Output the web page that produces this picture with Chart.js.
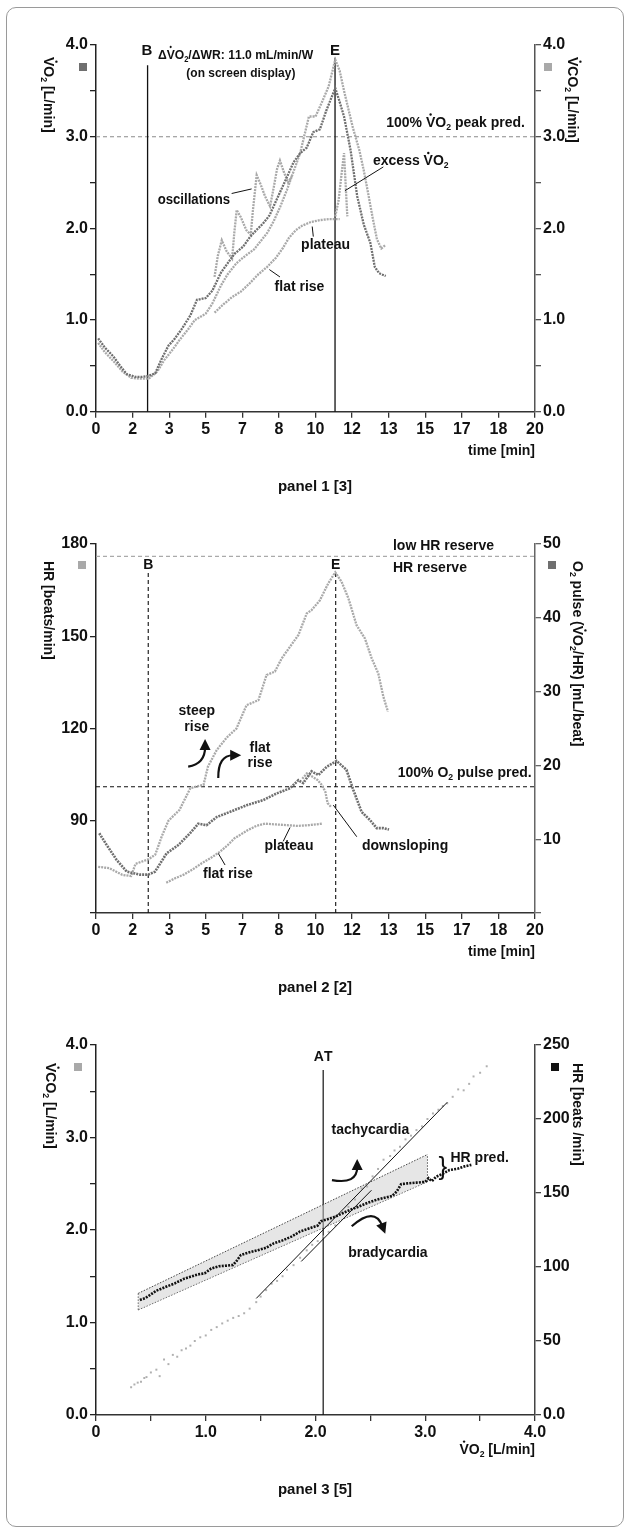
<!DOCTYPE html>
<html>
<head>
<meta charset="utf-8">
<script src="https://cdn.jsdelivr.net/npm/chart.js@4.4.1/dist/chart.umd.min.js"></script>
<style>
  html, body { margin: 0; padding: 0; background: #fff; }
  #page { position: relative; width: 630px; height: 1533px; }
  #frame { position: absolute; left: 6px; top: 7px; width: 616px; height: 1518px; border: 1px solid #9a9a9a; border-radius: 10px; }
  canvas { position: absolute; left: 0; }
</style>
</head>
<body>
<div id="page">
  <div id="frame"></div>
  <canvas id="c1" width="630" height="500" style="top:0"></canvas>
  <canvas id="c2" width="630" height="505" style="top:500px"></canvas>
  <canvas id="c3" width="630" height="528" style="top:1005px"></canvas>
</div>
<script>
// ---- panel 1: VO2 / VCO2 over time ----
const timeTickLabels = ['0', '2', '3', '5', '7', '8', '10', '12', '13', '15', '17', '18', '20'];
const p1TickLabels = ['0.0', '', '1.0', '', '2.0', '', '3.0', '', '4.0'];

const p1VO2Time = [0.1, 0.4, 0.8, 1.1, 1.4, 1.8, 2.1, 2.4, 2.7, 3.0, 3.3, 3.6, 3.9, 4.3, 4.6, 5.0, 5.3, 5.7, 6.0, 6.3, 6.7, 7.0, 7.3, 7.6, 7.9, 8.3, 8.7, 9.0, 9.3, 9.6, 9.9, 10.2, 10.5, 10.9, 11.1, 11.3, 11.6, 11.9, 12.2, 12.5, 12.7, 12.9, 13.2];
const p1VO2 = [0.80, 0.70, 0.60, 0.50, 0.41, 0.38, 0.38, 0.39, 0.42, 0.58, 0.72, 0.80, 0.90, 1.05, 1.22, 1.24, 1.32, 1.52, 1.62, 1.72, 1.80, 1.90, 1.98, 2.05, 2.14, 2.35, 2.56, 2.72, 2.82, 2.88, 3.05, 3.08, 3.29, 3.53, 3.38, 3.22, 2.85, 2.35, 2.04, 1.84, 1.58, 1.51, 1.48];

const p1VCO2Time = [0.1, 0.4, 0.8, 1.2, 1.6, 2.0, 2.4, 2.8, 3.1, 3.5, 3.8, 4.2, 4.5, 5.0, 5.3, 5.7, 6.0, 6.4, 6.8, 7.2, 7.5, 7.8, 8.1, 8.4, 8.7, 9.0, 9.3, 9.7, 10.0, 10.3, 10.6, 10.9, 11.1, 11.3, 11.5, 11.7, 12.0, 12.2, 12.4, 12.6, 12.8, 13.0, 13.2];
const p1VCO2 = [0.75, 0.65, 0.55, 0.44, 0.37, 0.36, 0.36, 0.44, 0.56, 0.68, 0.78, 0.90, 1.00, 1.07, 1.18, 1.38, 1.50, 1.62, 1.70, 1.77, 1.86, 1.95, 2.08, 2.24, 2.42, 2.62, 2.82, 3.22, 3.22, 3.38, 3.55, 3.84, 3.72, 3.50, 3.30, 3.10, 2.85, 2.63, 2.38, 2.12, 1.88, 1.78, 1.82];

const p1OscTime = [5.4, 5.55, 5.73, 5.95, 6.2, 6.3, 6.41, 6.6, 6.85, 7.05, 7.15, 7.32, 7.5, 7.7, 7.93, 8.1, 8.25, 8.38, 8.55, 8.75, 8.95];
const p1Osc = [1.47, 1.70, 1.87, 1.75, 1.67, 1.95, 2.20, 2.12, 1.98, 1.93, 2.20, 2.58, 2.48, 2.35, 2.24, 2.45, 2.65, 2.74, 2.62, 2.50, 2.58];

const p1FlatTime = [5.4, 5.8, 6.2, 6.6, 7.0, 7.4, 7.8, 8.2, 8.5, 8.8, 9.1, 9.4, 9.8, 10.2, 10.6, 11.1];
const p1Flat = [1.08, 1.17, 1.25, 1.31, 1.40, 1.50, 1.58, 1.68, 1.78, 1.90, 1.98, 2.03, 2.07, 2.09, 2.10, 2.10];

const p1ExcessTime = [10.9, 11.05, 11.2, 11.3, 11.38, 11.45];
const p1Excess = [2.13, 2.30, 2.62, 2.82, 2.45, 2.13];

// ---- panel 2: HR and O2 pulse over time ----
const p2HRTicks = [60, 90, 120, 150, 180];
const p2HRTickLabels = ['', '90', '120', '150', '180'];
const p2PulseTicks = [0, 10, 20, 30, 40, 50];
const p2PulseTickLabels = ['', '10', '20', '30', '40', '50'];

const p2HRTime = [0.1, 0.6, 1.2, 1.6, 1.8, 2.4, 2.7, 3.0, 3.3, 3.8, 4.3, 4.9, 5.1, 5.5, 5.95, 6.4, 6.86, 7.4, 7.77, 8.15, 8.46, 8.84, 9.22, 9.6, 9.82, 10.2, 10.58, 10.9, 11.19, 11.5, 11.87, 12.25, 12.56, 12.86, 13.09, 13.3];
const p2HR = [75, 74.6, 72.4, 72, 76, 77.5, 79, 85, 90, 93.5, 100.6, 101.7, 107.6, 113, 117, 120, 127.6, 129.2, 137.4, 138.5, 142.8, 146.6, 150.4, 157.4, 158.5, 161.7, 167.2, 170.8, 167.7, 162.3, 153.6, 149.3, 142.8, 137.9, 130.4, 125.5];

const p2PulseTime = [0.15, 0.49, 0.94, 1.4, 2.0, 2.38, 2.69, 3.22, 3.75, 4.28, 4.66, 5.04, 5.5, 6.1, 6.86, 7.62, 8.23, 8.84, 9.22, 9.44, 9.82, 10.13, 10.51, 10.96, 11.41, 11.72, 12.1, 12.48, 12.79, 13.09, 13.35];
const p2Pulse = [10.8, 9.2, 7.2, 5.6, 5.2, 5.2, 5.6, 8.1, 9.2, 10.8, 12.1, 11.9, 13.0, 13.7, 14.6, 15.3, 16.2, 16.9, 18.0, 17.6, 19.2, 18.7, 19.8, 20.6, 19.4, 16.7, 13.7, 12.6, 11.5, 11.5, 11.3];

const p2DownTime = [9.4, 9.6, 9.9, 10.1, 10.3, 10.45, 10.55, 10.7];
const p2Down = [18.2, 18.9, 18.4, 18.0, 17.3, 16.4, 14.9, 14.4];

const p2FlatTime = [3.2, 3.6, 4.0, 4.4, 4.8, 5.2, 5.65, 6.0, 6.3, 6.9, 7.3, 7.7, 8.2, 8.7, 9.2, 9.7, 10.3];
const p2Flat = [4.1, 4.7, 5.2, 5.9, 6.7, 7.4, 8.3, 9.2, 10.1, 11.2, 11.8, 12.1, 12.0, 11.9, 11.8, 11.9, 12.1];

// ---- panel 3: VCO2 and HR against VO2 ----
const p3XTickLabels = ['0', '', '1.0', '', '2.0', '', '3.0', '', '4.0'];
const p3YTickLabels = ['0.0', '', '1.0', '', '2.0', '', '3.0', '', '4.0'];
const p3HRTicks = [0, 50, 100, 150, 200, 250];
const p3HRTickLabels = ['0.0', '50', '100', '150', '200', '250'];

const p3ScatterVO2 = [0.32, 0.35, 0.38, 0.41, 0.44, 0.46, 0.5, 0.55, 0.58, 0.62, 0.66, 0.7, 0.74, 0.78, 0.82, 0.86, 0.9, 0.95, 1.0, 1.05, 1.1, 1.15, 1.2, 1.25, 1.3, 1.35, 1.4, 1.46, 1.5, 1.55, 1.6, 1.65, 1.7, 1.74, 1.8, 1.86, 1.92, 1.97, 2.02, 2.07, 2.12, 2.18, 2.25, 2.3, 2.36, 2.42, 2.47, 2.52, 2.57, 2.62, 2.68, 2.72, 2.77, 2.82, 2.87, 2.92, 2.97, 3.02, 3.07, 3.12, 3.16, 3.2, 3.25, 3.3, 3.35, 3.4, 3.44, 3.5, 3.56];
const p3ScatterVCO2 = [0.30, 0.33, 0.35, 0.36, 0.40, 0.41, 0.46, 0.49, 0.42, 0.60, 0.55, 0.65, 0.63, 0.70, 0.72, 0.75, 0.80, 0.84, 0.86, 0.92, 0.95, 0.99, 1.02, 1.05, 1.07, 1.10, 1.15, 1.22, 1.28, 1.35, 1.42, 1.45, 1.50, 1.57, 1.62, 1.70, 1.78, 1.84, 1.88, 1.93, 1.98, 2.05, 2.18, 2.25, 2.33, 2.45, 2.47, 2.58, 2.66, 2.76, 2.80, 2.86, 2.90, 2.98, 3.02, 3.08, 3.12, 3.20, 3.26, 3.30, 3.34, 3.37, 3.44, 3.52, 3.51, 3.58, 3.66, 3.70, 3.77];

const p3HRVO2 = [0.40, 0.45, 0.55, 0.65, 0.72, 0.80, 0.86, 0.93, 0.99, 1.05, 1.12, 1.20, 1.25, 1.28, 1.32, 1.40, 1.48, 1.55, 1.62, 1.70, 1.78, 1.86, 1.94, 2.02, 2.05, 2.10, 2.18, 2.25, 2.33, 2.40, 2.48, 2.56, 2.64, 2.70, 2.74, 2.78, 2.84, 2.92, 3.00, 3.03, 3.06, 3.10, 3.16, 3.22, 3.30, 3.36, 3.42];
const p3HR = [77.7, 79, 84, 87, 89, 92, 93.4, 95, 95.7, 99, 100.5, 101, 101.4, 104, 108.1, 110, 111.5, 113, 116, 118, 120.5, 124, 126, 128, 131, 132, 134, 136.5, 139, 141, 143.5, 145.5, 147, 148, 151, 156, 156.5, 157, 157.5, 160, 158, 161, 163, 165.5, 166.5, 168, 169];

const p3LineAX = [1.46, 3.20];
const p3LineAY = [1.26, 3.38];
const p3LineBX = [1.87, 2.51];
const p3LineBY = [1.66, 2.43];

const p3BandX = [0.385, 3.02];
const p3BandUpper = [82.2, 176];
const p3BandLower = [71, 157.6];

// ---- helpers ----
const FONT = "'Liberation Sans', Arial, sans-serif";
const DARK = '#6f6f6f';
const LIGHT = '#a9a9a9';

const pts = (xs, ys) => xs.map((x, i) => ({ x: x, y: ys[i] }));

function trace(xs, ys, color, axis, extra) {
    return Object.assign({
        data: pts(xs, ys), yAxisID: axis, showLine: true,
        borderColor: color, backgroundColor: color, borderWidth: 2.3,
        borderDash: [2, 1], pointRadius: 0, tension: 0, fill: false
    }, extra || {});
}

function scaleOpts(o) {
    return {
        type: 'linear', position: o.position, min: o.min, max: o.max,
        afterBuildTicks: s => { s.ticks = o.ticks.map(v => ({ value: v })); },
        afterFit: s => {
            if (o.width != null) s.width = o.width;
            if (o.height != null) s.height = o.height;
            s.paddingTop = 0; s.paddingBottom = 0; s.paddingLeft = 0; s.paddingRight = 0;
        },
        ticks: {
            autoSkip: false, maxRotation: 0, padding: 2, color: '#111',
            font: { family: FONT, size: 16, weight: 'bold' },
            callback: (v, i) => o.labels[i]
        },
        grid: { drawOnChartArea: false, drawTicks: true, tickLength: 6, color: o.color, lineWidth: 1.3 },
        border: { display: true, color: o.color, width: 1.5 }
    };
}

// draws text with "^" = dot over the next char, "_" = subscript next char
function rich(ctx, str, x, y, size, align, rot, squeeze) {
    const parts = [];
    let dot = false, sub = false;
    for (const ch of str) {
        if (ch === '^') { dot = true; continue; }
        if (ch === '_') { sub = true; continue; }
        parts.push({ ch: ch, dot: dot, sub: sub });
        dot = false; sub = false;
    }
    const font = p => 'bold ' + (p.sub ? size * 0.62 : size) + 'px ' + FONT;
    let w = 0;
    parts.forEach(p => { ctx.font = font(p); p.w = ctx.measureText(p.ch).width; w += p.w; });
    ctx.save();
    ctx.translate(x, y);
    if (rot) ctx.rotate(rot);
    if (squeeze) ctx.scale(squeeze, 1);
    ctx.fillStyle = '#111';
    ctx.textBaseline = 'middle';
    ctx.textAlign = 'left';
    let cx = align === 'center' ? -w / 2 : align === 'right' ? -w : 0;
    parts.forEach(p => {
        ctx.font = font(p);
        ctx.fillText(p.ch, cx, p.sub ? size * 0.32 : 0);
        if (p.dot) {
            ctx.beginPath();
            ctx.arc(cx + p.w / 2, -size * 0.6, size * 0.085, 0, Math.PI * 2);
            ctx.fill();
        }
        cx += p.w;
    });
    ctx.restore();
}

function seg(ctx, x0, y0, x1, y1, color, width, dash) {
    ctx.save();
    ctx.beginPath();
    ctx.strokeStyle = color;
    ctx.lineWidth = width;
    ctx.setLineDash(dash || []);
    ctx.moveTo(x0, y0);
    ctx.lineTo(x1, y1);
    ctx.stroke();
    ctx.restore();
}

function arrow(ctx, p0, c, p1) {
    ctx.save();
    ctx.strokeStyle = '#111';
    ctx.fillStyle = '#111';
    ctx.lineWidth = 2.2;
    ctx.beginPath();
    ctx.moveTo(p0[0], p0[1]);
    ctx.quadraticCurveTo(c[0], c[1], p1[0], p1[1]);
    ctx.stroke();
    const a = Math.atan2(p1[1] - c[1], p1[0] - c[0]);
    const dx = Math.cos(a), dy = Math.sin(a);
    ctx.beginPath();
    ctx.moveTo(p1[0] + dx * 8, p1[1] + dy * 8);
    ctx.lineTo(p1[0] - dx * 3 - dy * 5.5, p1[1] - dy * 3 + dx * 5.5);
    ctx.lineTo(p1[0] - dx * 3 + dy * 5.5, p1[1] - dy * 3 - dx * 5.5);
    ctx.closePath();
    ctx.fill();
    ctx.restore();
}

function square(ctx, x, y, color) {
    ctx.fillStyle = color;
    ctx.fillRect(x - 4, y - 4, 8, 8);
}

function makeChart(id, datasets, scales, padTop, under, over) {
    return new Chart(document.getElementById(id), {
        type: 'scatter',
        data: { datasets: datasets },
        options: {
            responsive: false, animation: false, devicePixelRatio: 1,
            layout: { padding: { top: padTop, left: 0, right: 0, bottom: 0 } },
            plugins: { legend: { display: false }, tooltip: { enabled: false } },
            scales: scales
        },
        plugins: [{
            id: 'notes',
            beforeDatasetsDraw: ch => under(ch, ch.ctx),
            afterDatasetsDraw: ch => over(ch, ch.ctx)
        }]
    });
}

const timeTicks = timeTickLabels.map((l, i) => i * 20 / 12);
const halfTicks = [0, 0.5, 1, 1.5, 2, 2.5, 3, 3.5, 4];

// ---- panel 1 ----
makeChart('c1', [
    trace(p1VO2Time, p1VO2, DARK, 'y'),
    trace(p1VCO2Time, p1VCO2, LIGHT, 'y2'),
    trace(p1OscTime, p1Osc, LIGHT, 'y2'),
    trace(p1FlatTime, p1Flat, LIGHT, 'y'),
    trace(p1ExcessTime, p1Excess, LIGHT, 'y')
], {
    x: scaleOpts({ position: 'bottom', min: 0, max: 20, ticks: timeTicks, labels: timeTickLabels, color: '#333', height: 88.3 }),
    y: scaleOpts({ position: 'left', min: 0, max: 4, ticks: halfTicks, labels: p1TickLabels, color: '#222', width: 96 }),
    y2: scaleOpts({ position: 'right', min: 0, max: 4, ticks: halfTicks, labels: p1TickLabels, color: '#555', width: 95 })
}, 45, (ch, ctx) => {
    const X = v => ch.scales.x.getPixelForValue(v), Y = v => ch.scales.y.getPixelForValue(v);
    const a = ch.chartArea;
    seg(ctx, a.left, Y(3), a.right, Y(3), '#8a8a8a', 1.1, [4, 3]);
    seg(ctx, X(2.35), Y(0), X(2.35), Y(3.78), '#111', 1.3);
    seg(ctx, X(10.89), Y(0), X(10.89), Y(3.86), '#111', 1.3);
}, (ch, ctx) => {
    const X = v => ch.scales.x.getPixelForValue(v), Y = v => ch.scales.y.getPixelForValue(v);
    const a = ch.chartArea;
    rich(ctx, 'B', X(2.32), Y(3.94), 15, 'center');
    rich(ctx, 'E', X(10.89), Y(3.94), 15, 'center');
    rich(ctx, '\u0394^VO_2/\u0394WR: 11.0 mL/min/W', X(2.82), Y(3.89), 13.5, 'left', 0, 0.9);
    rich(ctx, '(on screen display)', X(6.6), Y(3.69), 13, 'center', 0, 0.92);
    rich(ctx, '100% ^VO_2 peak pred.', X(19.54), Y(3.15), 14, 'right');
    rich(ctx, 'excess ^VO_2', X(12.62), Y(2.73), 14, 'left');
    seg(ctx, X(13.09), Y(2.67), X(11.34), Y(2.41), '#111', 1);
    rich(ctx, 'oscillations', X(4.46), Y(2.31), 14, 'center', 0, 0.94);
    seg(ctx, X(6.18), Y(2.38), X(7.09), Y(2.43), '#111', 1);
    rich(ctx, 'plateau', X(10.46), Y(1.82), 14, 'center');
    seg(ctx, X(9.85), Y(2.02), X(9.9), Y(1.91), '#111', 1);
    rich(ctx, 'flat rise', X(9.27), Y(1.36), 14, 'center');
    seg(ctx, X(7.9), Y(1.55), X(8.38), Y(1.47), '#111', 1);
    // axis titles and markers
    rich(ctx, '^VO_2 [L/min]', a.left - 48, a.top + 12, 14, 'left', Math.PI / 2);
    rich(ctx, '^VCO_2 [L/min]', a.right + 37, a.top + 12, 14, 'left', Math.PI / 2);
    square(ctx, a.left - 13, a.top + 22, DARK);
    square(ctx, a.right + 13, a.top + 22, LIGHT);
    rich(ctx, 'time [min]', a.right, a.bottom + 39, 14, 'right');
    rich(ctx, 'panel 1 [3]', 315, a.bottom + 75, 15, 'center');
});

// ---- panel 2 ----
makeChart('c2', [
    trace(p2PulseTime, p2Pulse, DARK, 'y2', { borderWidth: 2.6 }),
    trace(p2HRTime, p2HR, LIGHT, 'y'),
    trace(p2DownTime, p2Down, LIGHT, 'y2'),
    trace(p2FlatTime, p2Flat, LIGHT, 'y2')
], {
    x: scaleOpts({ position: 'bottom', min: 0, max: 20, ticks: timeTicks, labels: timeTickLabels, color: '#333', height: 92 }),
    y: scaleOpts({ position: 'left', min: 60, max: 180, ticks: p2HRTicks, labels: p2HRTickLabels, color: '#222', width: 96 }),
    y2: scaleOpts({ position: 'right', min: 0, max: 50, ticks: p2PulseTicks, labels: p2PulseTickLabels, color: '#666', width: 95 })
}, 44, (ch, ctx) => {
    const X = v => ch.scales.x.getPixelForValue(v), Y = v => ch.scales.y.getPixelForValue(v), Y2 = v => ch.scales.y2.getPixelForValue(v);
    const a = ch.chartArea;
    seg(ctx, a.left, Y(176), a.right, Y(176), '#aaa', 1.2, [4, 3]);
    seg(ctx, a.left, Y2(17.1), a.right, Y2(17.1), '#111', 1.1, [4, 3]);
    seg(ctx, X(2.38), Y(60), X(2.38), Y(170.6), '#111', 1.1, [4, 3]);
    seg(ctx, X(10.92), Y(60), X(10.92), Y(170.6), '#111', 1.1, [4, 3]);
}, (ch, ctx) => {
    const X = v => ch.scales.x.getPixelForValue(v), Y = v => ch.scales.y.getPixelForValue(v);
    const a = ch.chartArea;
    rich(ctx, 'B', X(2.38), Y(173.2), 14, 'center');
    rich(ctx, 'E', X(10.92), Y(173.2), 14, 'center');
    rich(ctx, 'low HR reserve', X(13.53), Y(179.3), 14, 'left');
    rich(ctx, 'HR reserve', X(13.53), Y(172.2), 14, 'left');
    rich(ctx, '100% O_2 pulse pred.', X(19.85), Y(105.5), 14, 'right');
    rich(ctx, 'steep', X(4.59), Y(125.5), 14, 'center');
    rich(ctx, 'rise', X(4.59), Y(120.6), 14, 'center');
    rich(ctx, 'flat', X(7.47), Y(113.6), 14, 'center');
    rich(ctx, 'rise', X(7.47), Y(108.8), 14, 'center');
    arrow(ctx, [X(4.2), Y(107.6)], [X(4.97), Y(108.5)], [X(4.97), Y(114)]);
    arrow(ctx, [X(5.57), Y(103.9)], [X(5.56), Y(111.3)], [X(6.25), Y(111.3)]);
    rich(ctx, 'plateau', X(8.79), Y(81.6), 14, 'center');
    seg(ctx, X(8.53), Y(83.3), X(8.84), Y(87.8), '#111', 1);
    rich(ctx, 'flat rise', X(6.01), Y(72.7), 14, 'center');
    seg(ctx, X(5.57), Y(79.4), X(5.88), Y(75.6), '#111', 1);
    rich(ctx, 'downsloping', X(14.08), Y(81.8), 14, 'center');
    seg(ctx, X(10.81), Y(95.1), X(11.88), Y(84.8), '#111', 1);
    rich(ctx, 'HR [beats/min]', a.left - 48, a.top + 17, 14, 'left', Math.PI / 2);
    rich(ctx, 'O_2 pulse (^VO_2/HR) [mL/beat]', a.right + 42, a.top + 17, 14, 'left', Math.PI / 2);
    square(ctx, a.left - 14, a.top + 21, LIGHT);
    square(ctx, a.right + 17, a.top + 21, DARK);
    rich(ctx, 'time [min]', a.right, a.bottom + 39, 14, 'right');
    rich(ctx, 'panel 2 [2]', 315, a.bottom + 75, 15, 'center');
});

// ---- panel 3 ----
makeChart('c3', [
    trace(p3HRVO2, p3HR, '#111', 'y2', { borderWidth: 2.6, borderDash: [2, 1.2] }),
    { data: pts(p3LineAX, p3LineAY), yAxisID: 'y', showLine: true, borderColor: '#111', borderWidth: 1, pointRadius: 0 },
    { data: pts(p3LineBX, p3LineBY), yAxisID: 'y', showLine: true, borderColor: '#111', borderWidth: 1, pointRadius: 0 },
    { data: pts(p3ScatterVO2, p3ScatterVCO2), yAxisID: 'y', showLine: false, pointStyle: 'rect', pointRadius: 1.4, backgroundColor: '#b0b0b0', borderColor: '#b0b0b0', borderWidth: 0 },
    { data: pts(p3BandX, p3BandUpper), yAxisID: 'y2', showLine: true, borderColor: '#333', borderWidth: 0.9, borderDash: [1.5, 1.5], pointRadius: 0, fill: '+1', backgroundColor: 'rgba(205,205,205,0.5)' },
    { data: pts(p3BandX, p3BandLower), yAxisID: 'y2', showLine: true, borderColor: '#333', borderWidth: 0.9, borderDash: [1.5, 1.5], pointRadius: 0 },
    { data: pts([p3BandX[1], p3BandX[1]], [p3BandLower[1], p3BandUpper[1]]), yAxisID: 'y2', showLine: true, borderColor: '#333', borderWidth: 0.9, borderDash: [1.5, 1.5], pointRadius: 0 },
    { data: pts([p3BandX[0], p3BandX[0]], [p3BandLower[0], p3BandUpper[0]]), yAxisID: 'y2', showLine: true, borderColor: '#333', borderWidth: 0.9, borderDash: [1.5, 1.5], pointRadius: 0 }
], {
    x: scaleOpts({ position: 'bottom', min: 0, max: 4, ticks: halfTicks, labels: p3XTickLabels, color: '#333', height: 118 }),
    y: scaleOpts({ position: 'left', min: 0, max: 4, ticks: halfTicks, labels: p3YTickLabels, color: '#222', width: 96 }),
    y2: scaleOpts({ position: 'right', min: 0, max: 250, ticks: p3HRTicks, labels: p3HRTickLabels, color: '#444', width: 95 })
}, 40, (ch, ctx) => {
    const X = v => ch.scales.x.getPixelForValue(v), Y = v => ch.scales.y.getPixelForValue(v);
    seg(ctx, X(2.07), Y(0), X(2.07), Y(3.73), '#111', 1.2);
}, (ch, ctx) => {
    const X = v => ch.scales.x.getPixelForValue(v), Y = v => ch.scales.y.getPixelForValue(v), Y2 = v => ch.scales.y2.getPixelForValue(v);
    const a = ch.chartArea;
    rich(ctx, 'AT', X(2.07), Y(3.87), 14, 'center');
    rich(ctx, 'tachycardia', X(2.5), Y(3.08), 14, 'center');
    rich(ctx, 'bradycardia', X(2.66), Y(1.75), 14, 'center');
    rich(ctx, 'HR pred.', X(3.23), Y(2.78), 14, 'left');
    arrow(ctx, [X(2.15), Y(2.54)], [X(2.38), Y(2.49)], [X(2.38), Y(2.68)]);
    arrow(ctx, [X(2.33), Y(2.04)], [X(2.54), Y(2.26)], [X(2.61), Y(2.04)]);
    // brace next to the predicted HR band
    const b0 = Y2(p3BandUpper[1]), b1 = Y2(p3BandLower[1]);
    ctx.save();
    ctx.font = '26px ' + FONT;
    ctx.fillStyle = '#111';
    ctx.textAlign = 'center';
    ctx.textBaseline = 'middle';
    ctx.fillText('}', X(3.16), (b0 + b1) / 2);
    ctx.restore();
    rich(ctx, '^VCO_2 [L/min]', a.left - 46, a.top + 18, 14, 'left', Math.PI / 2);
    rich(ctx, 'HR [beats /min]', a.right + 42, a.top + 18, 14, 'left', Math.PI / 2);
    square(ctx, a.left - 18, a.top + 22, LIGHT);
    square(ctx, a.right + 20, a.top + 22, '#111');
    rich(ctx, '^VO_2 [L/min]', a.right, a.bottom + 35, 14, 'right');
    rich(ctx, 'panel 3 [5]', 315, a.bottom + 75, 15, 'center');
});
</script>
</body>
</html>
